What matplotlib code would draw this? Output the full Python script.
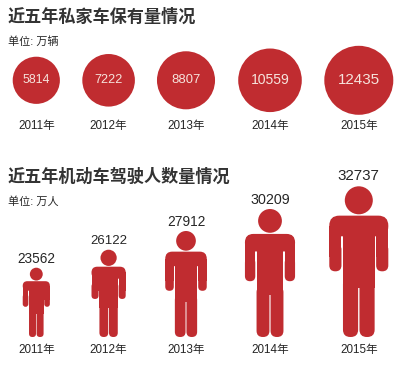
import matplotlib
matplotlib.use('Agg')
import matplotlib.pyplot as plt
from matplotlib.patches import Circle, FancyBboxPatch, Rectangle

plt.rcParams['font.family'] = ['Liberation Sans', 'Noto Sans CJK SC']

years = ['2011年', '2012年', '2013年', '2014年', '2015年']
cars = [5814, 7222, 8807, 10559, 12435]
drivers = [23562, 26122, 27912, 30209, 32737]

title_cars = '近五年私家车保有量情况'
title_drivers = '近五年机动车驾驶人数量情况'
unit_cars = '单位: 万辆'
unit_drivers = '单位: 万人'

# layout, in pixels of the 400x367 picture
centers = [36.3, 108.6, 186, 270, 358.8]
person_h = [69.3, 87.3, 106, 128, 150.7]
car_fs = [8.9, 9.1, 9.4, 10.1, 10.9]
driver_fs = [9.8, 9.5, 9.9, 10.3, 10.9]
RED = '#c02c30'
DARK = '#262626'


def box(ax, x0, x1, y0, y1, r):
    ax.add_patch(FancyBboxPatch((x0, y0), x1 - x0, y1 - y0,
                                boxstyle=f'round,pad=0,rounding_size={r}',
                                fc=RED, ec='none'))


def rect(ax, x0, x1, y0, y1):
    ax.add_patch(Rectangle((x0, y0), x1 - x0, y1 - y0, fc=RED, ec='none'))


def person(ax, cx, feet, h):
    # template was measured on the tallest figure, 452 units high
    u = h / 452
    top = feet - h

    def yy(v):
        return top + (v - 108) * u

    ax.add_patch(Circle((cx, yy(150)), 42 * u, fc=RED, ec='none'))
    box(ax, cx - 88.5 * u, cx + 88.5 * u, yy(196), yy(258), 30 * u)
    # arms: square top so no notch under the shoulder, round at the hand
    rect(ax, cx - 88.5 * u, cx - 52 * u, yy(226), yy(320))
    rect(ax, cx + 52 * u, cx + 88.5 * u, yy(226), yy(320))
    box(ax, cx - 88.5 * u, cx - 52 * u, yy(280), yy(363), 18 * u)
    box(ax, cx + 52 * u, cx + 88.5 * u, yy(280), yy(363), 18 * u)
    rect(ax, cx - 47.5 * u, cx + 47.5 * u, yy(230), yy(412))
    box(ax, cx - 47.5 * u, cx - 2 * u, yy(380), yy(560), 22 * u)
    box(ax, cx + 2 * u, cx + 47.5 * u, yy(380), yy(560), 22 * u)


fig = plt.figure(figsize=(4.0, 3.67), dpi=100)
ax = fig.add_axes([0, 0, 1, 1])
ax.set_xlim(0, 400)
ax.set_ylim(367, 0)
ax.axis('off')

ax.text(7.5, 16, title_cars, fontsize=12.3, weight='bold', color='#333333', va='center')
ax.text(7.5, 41.5, unit_cars, fontsize=8, color=DARK, va='center')
ax.text(7.5, 176, title_drivers, fontsize=12.3, weight='bold', color='#333333', va='center')
ax.text(7.5, 202, unit_drivers, fontsize=8, color=DARK, va='center')

for i in range(len(years)):
    # circle area follows the value
    r = (cars[i] * 0.0957) ** 0.5
    ax.add_patch(Circle((centers[i], 80.3), r, fc=RED, ec='none'))
    ax.text(centers[i], 80, str(cars[i]), fontsize=car_fs[i], color='#f6e3dc',
            ha='center', va='center')
    ax.text(centers[i], 126, years[i], fontsize=8.4, color=DARK, ha='center', va='center')

    person(ax, centers[i], 337, person_h[i])
    ax.text(centers[i], 337 - person_h[i] - driver_fs[i] * 0.92, str(drivers[i]),
            fontsize=driver_fs[i], color=DARK, ha='center', va='center')
    ax.text(centers[i], 350, years[i], fontsize=8.4, color=DARK, ha='center', va='center')

fig.savefig('out.png', dpi=100)
